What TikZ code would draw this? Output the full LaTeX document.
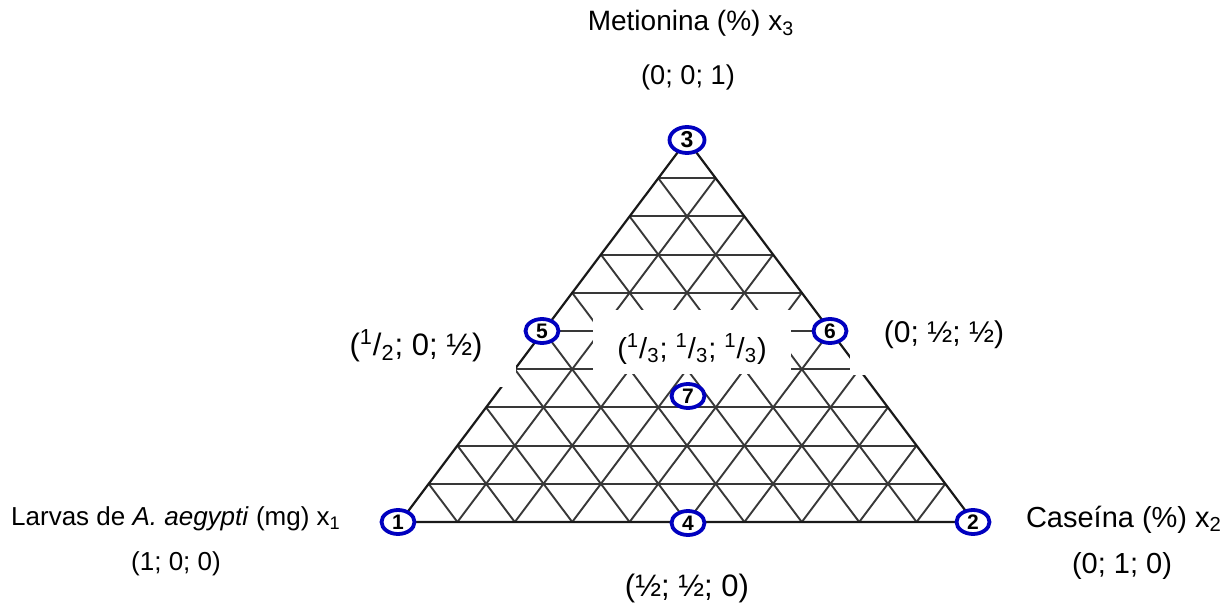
\documentclass[tikz,border=0pt]{standalone}
\usepackage{fontspec}
\setmainfont{Liberation Sans}
\usetikzlibrary{shapes.geometric,calc}
\begin{document}
\begin{tikzpicture}[x=0.5pt,y=-0.5pt,
  gridline/.style={line width=0.95pt, draw=black!78},
  edgeline/.style={line width=1.1pt, draw=black!90},
  pt/.style={ellipse, draw=blue!75!black, line width=1.9pt, fill=white,
    minimum width=16.5pt, minimum height=12pt, inner sep=0pt,
    font=\fontsize{10.5}{10.5}\selectfont\bfseries},
  lbl/.style={anchor=base, inner sep=0pt, font=\fontsize{14.5}{16}\selectfont},
  lbll/.style={anchor=base, inner sep=0pt, font=\fontsize{13}{15}\selectfont},
  ]
\useasboundingbox (0,0) rectangle (1231,605);
\coordinate (A) at (400,522);
\coordinate (B) at (974,522);
\coordinate (C) at (687,140);
% grid
\foreach \i in {1,...,9}{
  \pgfmathsetmacro\t{\i/10}
  \draw[gridline] ($(A)!\t!(C)$) -- ($(B)!\t!(C)$);
  \draw[gridline] ($(A)!\t!(B)$) -- ($(C)!\t!(B)$);
  \draw[gridline] ($(B)!\t!(A)$) -- ($(C)!\t!(A)$);
}
\draw[edgeline] (A) -- (B) -- (C) -- cycle;
% white label backgrounds
\fill[white] (330,305) rectangle (516,387);
\fill[white] (593,310) rectangle (791,374);
\fill[white] (850,305) rectangle (1015,375);
% design points
\node[pt] (n1) at (398,522) {1};
\node[pt] (n2) at (973,522) {2};
\node[pt, minimum width=17.5pt, minimum height=13pt, font=\fontsize{11.5}{11.5}\selectfont\bfseries] (n3) at (687,140) {3};
\node[pt] (n4) at (688,523) {4};
\node[pt] (n5) at (542,331) {5};
\node[pt] (n6) at (830,331) {6};
\node[pt] (n7) at (688,396) {7};
% labels
\node[lbl, font=\fontsize{14}{16}\selectfont] (t3) at (691,31) {Metionina (\%) x\textsubscript{3}};
\node[lbl, font=\fontsize{13.6}{16}\selectfont] (c3) at (688,84) {(0; 0; 1)};
\node[lbll] (t1) at (176,525) {Larvas de \textit{A. aegypti} (mg) x\textsubscript{1}};
\node[lbll] (c1) at (176,570) {(1; 0; 0)};
\node[lbl] (t2) at (1124,527) {Caseína (\%) x\textsubscript{2}};
\node[lbl] (c2) at (1122,573) {(0; 1; 0)};
\node[lbl, font=\fontsize{15.5}{17}\selectfont] (c4) at (687,596) {(½; ½; 0)};
\node[lbl, font=\fontsize{15.5}{17}\selectfont] (c5) at (416,355) {(\textsuperscript{1}/\textsubscript{2}; 0; ½)};
\node[lbl] (c7) at (692,358) {(\textsuperscript{1}/\textsubscript{3}; \textsuperscript{1}/\textsubscript{3}; \textsuperscript{1}/\textsubscript{3})};
\node[lbl, font=\fontsize{15}{17}\selectfont] (c6) at (944,342) {(0; ½; ½)};
\end{tikzpicture}
\end{document}
